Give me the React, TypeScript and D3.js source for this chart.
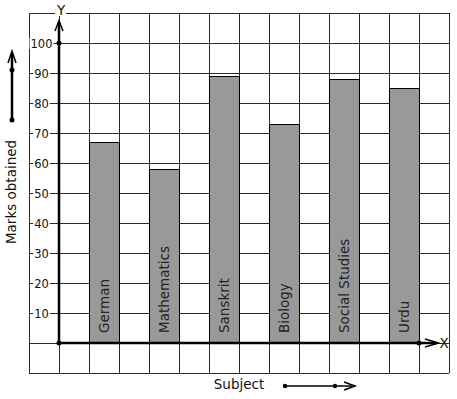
import * as d3 from 'd3'

const subjects = ['German', 'Mathematics', 'Sanskrit', 'Biology', 'Social Studies', 'Urdu']
const marks = [67, 58, 89, 73, 88, 85]
const yTicks = [10, 20, 30, 40, 50, 60, 70, 80, 90, 100]

const W = 457
const H = 399
const FONT = 'DejaVu Sans, sans-serif'

export default function App() {
  // grid in "cell" units: x -1..13, y -10..110
  const x = d3.scaleLinear().domain([-1, 13]).range([29, 449])
  const y = d3.scaleLinear().domain([-10, 110]).range([373, 13])

  const xCells = d3.range(-1, 14)
  const yCells = d3.range(-10, 111, 10)

  const x0 = x(0)
  const y0 = y(0)
  const ink = '#111'
  const tickFont = 11.5
  const tickX = 41.5

  return (
    <svg
      width={W}
      height={H}
      style={{ position: 'absolute', left: 0, top: 0, background: '#fff' }}
      fontFamily={FONT}
    >
      <rect width={W} height={H} fill="#fff" />
      {/* grid */}
      <g stroke="#2a2a2a" strokeWidth={1} shapeRendering="crispEdges">
        {xCells.map((c) => (
          <line key={'v' + c} x1={x(c) + 0.5} x2={x(c) + 0.5} y1={y(110)} y2={y(-10)} />
        ))}
        {yCells.map((v) => (
          <line key={'h' + v} x1={x(-1)} x2={x(13)} y1={y(v) + 0.5} y2={y(v) + 0.5} />
        ))}
      </g>

      {/* bars */}
      {subjects.map((s, i) => {
        const left = x(1 + i * 2)
        const right = x(2 + i * 2)
        const cx = (left + right) / 2
        return (
          <g key={s}>
            <rect
              x={left + 0.5}
              y={y(marks[i]) + 0.5}
              width={right - left}
              height={y0 - y(marks[i])}
              fill="#999"
              stroke="#000"
              strokeWidth={1}
            />
            <text
              transform={`translate(${cx + 5},${y0 - 10}) rotate(-90)`}
              fontSize={13.5}
              fill="#222"
            >
              {s}
            </text>
          </g>
        )
      })}

      {/* y tick labels sitting on the grid lines */}
      {yTicks.map((v) => {
        const w = String(v).length * tickFont * 0.636 + 2
        return (
          <g key={'t' + v}>
            <rect x={tickX - w / 2} y={y(v) - 5} width={w} height={11} fill="#fff" />
            <text x={tickX} y={y(v) + 4.5} textAnchor="middle" fontSize={tickFont} fill={ink}>
              {v}
            </text>
          </g>
        )
      })}

      {/* axes */}
      <line x1={x0} x2={x0} y1={y0} y2={y(107)} stroke="#000" strokeWidth={2.5} />
      <path
        d={`M${x0 - 4},${y(104)} L${x0},${y(107.5)} L${x0 + 4},${y(104)}`}
        fill="none"
        stroke="#000"
        strokeWidth={1.5}
      />
      <line x1={x0} x2={x(12.6)} y1={y0} y2={y0} stroke="#000" strokeWidth={2.5} />
      <path
        d={`M${x(12.2)},${y0 - 4} L${x(12.65)},${y0} L${x(12.2)},${y0 + 4}`}
        fill="none"
        stroke="#000"
        strokeWidth={1.5}
      />
      <circle cx={x0} cy={y0} r={2.5} fill="#000" />
      <circle cx={x0} cy={y(100)} r={2.5} fill="#000" />
      <circle cx={x(12)} cy={y0} r={2.5} fill="#000" />

      {/* axis letters */}
      <rect x={x0 - 4} y={y(110) - 2} width={11} height={5} fill="#fff" />
      <text x={x0 + 2} y={y(110) + 2} textAnchor="middle" fontSize={13.5} fill={ink}>
        Y
      </text>
      <text x={x(13) - 5} y={y0 + 5} textAnchor="middle" fontSize={13.5} fill={ink}>
        X
      </text>

      {/* y axis title with arrow */}
      <text
        transform={`translate(16,${y(50) - 1}) rotate(-90)`}
        textAnchor="middle"
        fontSize={13.5}
        fill={ink}
      >
        Marks obtained
      </text>
      <line x1={12} x2={12} y1={120} y2={54} stroke="#000" strokeWidth={2.5} />
      <path d="M8,63 L12,51 L16,63" fill="none" stroke="#000" strokeWidth={1.5} />
      <circle cx={12} cy={120} r={2.5} fill="#000" />
      <circle cx={12} cy={70} r={2.5} fill="#000" />

      {/* x axis title with arrow */}
      <text x={239} y={389} textAnchor="middle" fontSize={13.5} fill={ink}>
        Subject
      </text>
      <line x1={285} x2={352} y1={386} y2={386} stroke="#000" strokeWidth={1.5} />
      <path d="M344,382 L355,386 L344,390" fill="none" stroke="#000" strokeWidth={1.5} />
      <circle cx={285} cy={386} r={2.2} fill="#000" />
      <circle cx={335} cy={386} r={2.2} fill="#000" />
    </svg>
  )
}
